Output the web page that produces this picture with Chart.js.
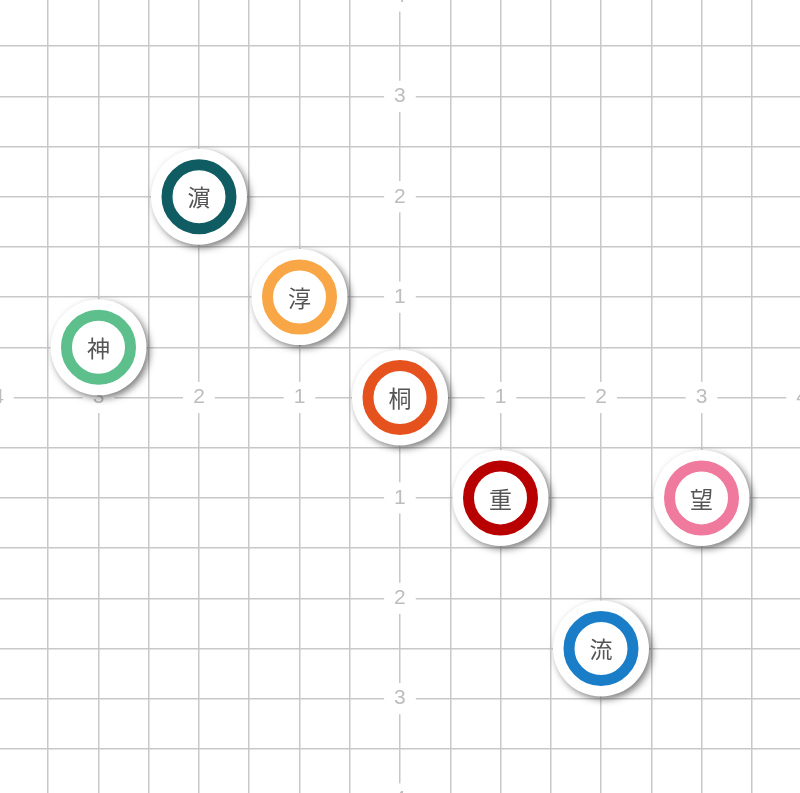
<!DOCTYPE html>
<html>
<head>
<meta charset="utf-8">
<script src="https://cdn.jsdelivr.net/npm/chart.js@4"></script>
<style>
  html, body { margin: 0; padding: 0; background: #fff; }
  #wrap { width: 800px; height: 793px; }
</style>
</head>
<body>
<div id="wrap"><canvas id="myChart"></canvas></div>
<script>
// people placed on the grid
const names  = ['神', '濵', '淳', '桐', '重', '望', '流'];
const xVals  = [-3, -2, -1, 0, 1, 3, 2];
const yVals  = [0.5, 2, 1, 0, -1, -1, -2.5];
const colors = ['#5cbf8c', '#0f5c63', '#f9a646', '#e5521e', '#b80000', '#ef7a9e', '#1a7dc8'];

// grid lines every half unit, labels on whole units
const xTicks = [-4, -3.5, -3, -2.5, -2, -1.5, -1, -0.5, 0, 0.5, 1, 1.5, 2, 2.5, 3, 3.5, 4];
const yTicks = [-4, -3.5, -3, -2.5, -2, -1.5, -1, -0.5, 0, 0.5, 1, 1.5, 2, 2.5, 3, 3.5, 4];

const points = names.map((n, i) => ({x: xVals[i], y: yVals[i]}));

const tickLabel = (value) => {
  if (value === 0 || !Number.isInteger(value)) return '';
  return String(Math.abs(value));
};

const tickFont = {family: "'Liberation Sans', Arial, sans-serif", size: 21};

const shadowPlugin = {
  id: 'shadow',
  beforeDatasetDraw(chart, args) {
    if (chart.data.datasets[args.index].label !== 'base') return;
    const ctx = chart.ctx;
    ctx.save();
    ctx.shadowColor = 'rgba(0,0,0,0.5)';
    ctx.shadowBlur = 7;
    ctx.shadowOffsetX = 3;
    ctx.shadowOffsetY = 3;
  },
  afterDatasetDraw(chart, args) {
    if (chart.data.datasets[args.index].label !== 'base') return;
    chart.ctx.restore();
  }
};

const namePlugin = {
  id: 'names',
  afterDatasetsDraw(chart) {
    const ctx = chart.ctx;
    const meta = chart.getDatasetMeta(0);
    ctx.save();
    ctx.font = "23px 'Noto Sans CJK JP', sans-serif";
    ctx.fillStyle = '#555';
    ctx.textAlign = 'center';
    ctx.textBaseline = 'middle';
    meta.data.forEach((el, i) => {
      ctx.fillText(names[i], el.x, el.y + 1);
    });
    ctx.restore();
  }
};

const noPad = (scale) => {
  scale.paddingLeft = 0; scale.paddingRight = 0;
  scale.paddingTop = 0; scale.paddingBottom = 0;
};

const cfg = {
  type: 'scatter',
  data: {
    datasets: [{
      label: 'ring',
      data: points,
      order: 1,
      clip: false,
      pointRadius: 32,
      pointBorderWidth: 11,
      pointBackgroundColor: '#fff',
      pointBorderColor: colors
    }, {
      label: 'base',
      data: points,
      order: 2,
      clip: false,
      pointRadius: 48,
      pointBorderWidth: 0,
      pointBackgroundColor: '#fff'
    }]
  },
  options: {
    responsive: true,
    maintainAspectRatio: false,
    animation: false,
    events: [],
    layout: { padding: 0, autoPadding: false },
    plugins: {
      legend: { display: false },
      tooltip: { enabled: false }
    },
    scales: {
      x: {
        type: 'linear',
        min: -3.98,
        max: 3.98,
        position: {y: 0},
        afterBuildTicks: (scale) => { scale.ticks = xTicks.map(v => ({value: v})); },
        afterFit: noPad,
        grid: { color: '#c8c8c8', lineWidth: 1.5, drawTicks: false },
        border: { display: false },
        ticks: {
          callback: tickLabel,
          autoSkip: false,
          maxRotation: 0,
          padding: -12.6,
          font: tickFont,
          color: '#bdbdbd',
          showLabelBackdrop: true,
          backdropColor: (c) => c.tick && c.tick.label !== '' ? '#fff' : 'rgba(0,0,0,0)',
          backdropPadding: {x: 10, y: 3}
        }
      },
      y: {
        type: 'linear',
        min: -3.94,
        max: 3.96,
        position: 'center',
        afterBuildTicks: (scale) => { scale.ticks = yTicks.map(v => ({value: v})); },
        afterFit: noPad,
        grid: { color: '#c8c8c8', lineWidth: 1.5, drawTicks: false },
        border: { display: false },
        ticks: {
          callback: tickLabel,
          autoSkip: false,
          padding: -5.8,
          font: tickFont,
          color: '#bdbdbd',
          showLabelBackdrop: true,
          backdropColor: (c) => c.tick && c.tick.label !== '' ? '#fff' : 'rgba(0,0,0,0)',
          backdropPadding: {x: 10, y: 3}
        }
      }
    }
  },
  plugins: [shadowPlugin, namePlugin]
};

const ctx = document.getElementById('myChart');
new Chart(ctx, cfg);
</script>
</body>
</html>
